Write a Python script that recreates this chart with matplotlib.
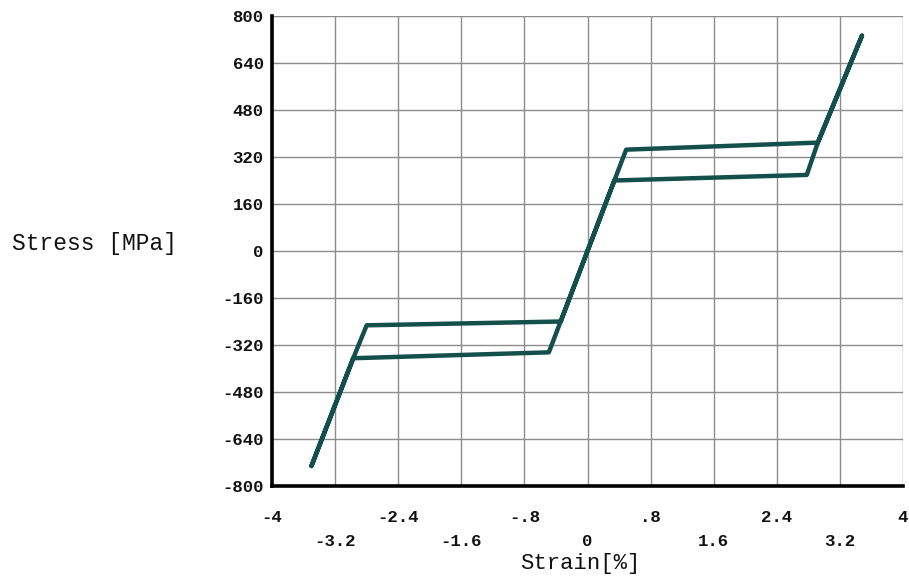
import matplotlib
matplotlib.use("Agg")
import matplotlib.pyplot as plt
from matplotlib.ticker import FixedLocator, FixedFormatter

# tension loop: loading (elastic, upper plateau, elastic) then unloading
strain_ten = [0, 0.49, 2.92, 3.48, 2.92, 2.78, 0.34, 0]
stress_ten = [0, 345, 369, 733, 369, 259, 240, 0]

# compression loop
strain_comp = [0, -0.49, -2.97, -3.50, -2.97, -2.80, -0.34, 0]
stress_comp = [0, -345, -365, -732, -365, -253, -240, 0]

xticks_row1 = [-4, -2.4, -0.8, 0.8, 2.4, 4]
xlabels_row1 = ["-4", "-2.4", "-.8", ".8", "2.4", "4"]
xticks_row2 = [-3.2, -1.6, 0, 1.6, 3.2]
xlabels_row2 = ["-3.2", "-1.6", "0", "1.6", "3.2"]
yticks = [800, 640, 480, 320, 160, 0, -160, -320, -480, -640, -800]

fonte = "Liberation Mono"
cor = "#134f4b"

fig = plt.figure(figsize=(9.09, 5.77), dpi=100)
ax = fig.add_axes([272/909, 91/577, 631/909, 470/577])

ax.plot(strain_ten, stress_ten, color=cor, lw=3.2, solid_joinstyle="round", solid_capstyle="round")
ax.plot(strain_comp, stress_comp, color=cor, lw=3.2, solid_joinstyle="round", solid_capstyle="round")

ax.set_xlim(-4, 4)
ax.set_ylim(-800, 800)

# duas linhas de rotulos no eixo x
ax.xaxis.set_major_locator(FixedLocator(xticks_row1))
ax.xaxis.set_major_formatter(FixedFormatter(xlabels_row1))
ax.xaxis.set_minor_locator(FixedLocator(xticks_row2))
ax.xaxis.set_minor_formatter(FixedFormatter(xlabels_row2))
ax.set_yticks(yticks)
ax.set_yticklabels([str(v) for v in yticks])

ax.tick_params(axis="x", which="major", length=0, pad=17)
ax.tick_params(axis="x", which="minor", length=0, pad=34.5)
ax.tick_params(axis="y", length=0, pad=6)
for lab in ax.get_xticklabels(which="both") + ax.get_yticklabels():
    lab.set_fontfamily(fonte)
    lab.set_fontweight("bold")
    lab.set_fontsize(12.5)
    lab.set_color("#111111")

ax.grid(True, which="both", color="#8c8c8c", lw=1)
ax.set_axisbelow(True)

for s in ["top", "right"]:
    ax.spines[s].set_visible(False)
for s in ["left", "bottom"]:
    ax.spines[s].set_linewidth(2.6)
    ax.spines[s].set_color("black")

ax.set_xlabel("Strain[%]", fontfamily=fonte, fontsize=16, color="#111111")
ax.xaxis.set_label_coords(0.488, -0.142)
ax.set_ylabel("Stress [MPa]", fontfamily=fonte, fontsize=16.5, color="#111111",
              rotation=0, ha="center", va="center")
ax.yaxis.set_label_coords(-0.282, 0.515)

plt.savefig("out.png", dpi=100)
